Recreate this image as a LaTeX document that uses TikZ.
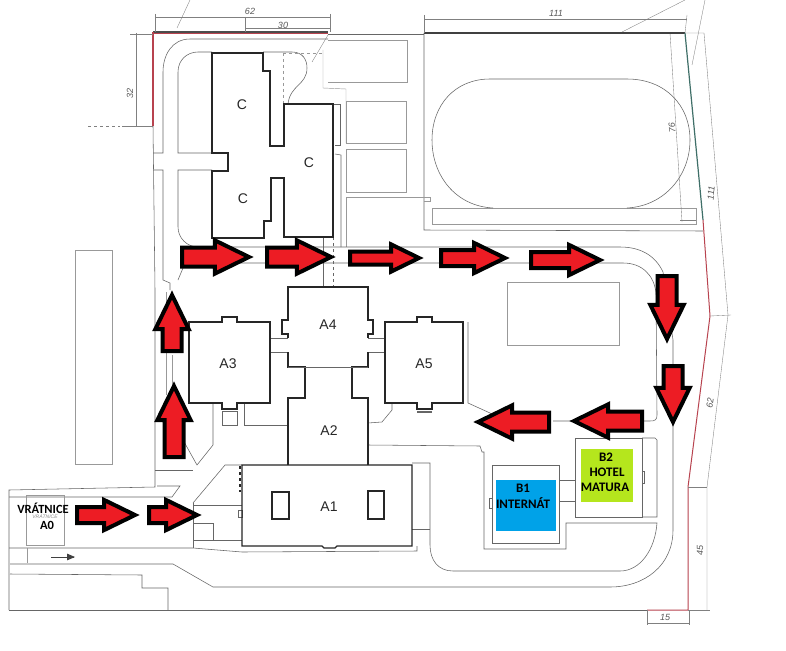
\documentclass[tikz,border=0pt]{standalone}
\usepackage{fontspec}
\setmainfont{Liberation Sans}
\newfontfamily\signfont{Carlito}
\usetikzlibrary{arrows,shapes.arrows}
\definecolor{guidered}{HTML}{ED1C24}
\definecolor{signblue}{HTML}{00A2E8}
\definecolor{signgreen}{HTML}{B5E61D}
\definecolor{borderred}{HTML}{B8434F}
\definecolor{borderteal}{HTML}{3F6F68}
\tikzset{
  wall/.style={line width=1.15pt,black!85},
  road/.style={line width=0.55pt,black!60},
  faint/.style={line width=0.45pt,black!40},
  measure/.style={line width=0.35pt,black!50},
  guide/.style={single arrow,draw=black,fill=guidered,line width=4pt,line join=miter,anchor=tail,inner xsep=0pt,inner ysep=7.5pt,
    single arrow tip angle=52,single arrow head indent=0pt,minimum width=25pt},
  smallguide/.style={guide,inner ysep=6pt,minimum width=21pt},
  dimtext/.style={font=\itshape\fontsize{9}{9}\selectfont,black!65,inner sep=0pt},
  housetext/.style={font=\fontsize{14}{14}\selectfont,black!85,inner sep=0pt},
  signtext/.style={font=\signfont\bfseries\fontsize{13}{13}\selectfont,black,inner sep=0pt}
}
\begin{document}
\begin{tikzpicture}[x=1pt,y=-1pt]
  \useasboundingbox (0,0) rectangle (786,650);
  \fill[white] (0,0) rectangle (786,650);

  % sports ground
  \draw[road] (424,33) -- (424,230) -- (703,231);
  \draw[faint] (432,208) -- (696,208) -- (696,224) -- (432,224) -- cycle;
  \draw[road] (493,208) .. controls (455,206) and (432,175) .. (432,140) .. controls (432,105) and (455,79) .. (490,79)
    -- (627,79) .. controls (665,79) and (690,105) .. (690,140) .. controls (690,175) and (665,206) .. (627,208);
  \draw[faint] (424,197) -- (430,197) -- (430,201) -- (424,201);
  \draw[faint] (410,197) -- (424,197);
  \draw[measure] (670,33) -- (682,222);
  \draw[measure] (680,220) -- (696,220);

  % parking
  \draw[faint] (328,40) -- (407,40) -- (407,82) -- (328,82);
  \draw[faint] (346,101) rectangle (406,143);
  \draw[faint] (346,149) rectangle (406,192);
  \draw[faint] (424,197) -- (346,197) -- (346,247);

  % north road and C block
  \draw[road] (328,34) -- (424,34);
  \draw[road] (328,39) -- (190,39) .. controls (172,39) and (163,55) .. (163,72) -- (163,153) -- (153,153);
  \draw[road] (153,170) -- (163,170) -- (163,280) -- (170,283) -- (170,290);
  \draw[road] (212,153) -- (178,153) -- (178,72) .. controls (178,60) and (187,52) .. (198,52) -- (212,52);
  \draw[road] (212,170) -- (178,170) -- (178,227) .. controls (178,238) and (187,247) .. (198,247) -- (620,247)
    .. controls (640,247) and (655,255) .. (663,272) -- (673,340) -- (673,530)
    .. controls (673,565) and (645,587) .. (610,587) -- (213,587) -- (173,564) -- (10,564);
  \draw[road] (178,280) -- (183,268) -- (186,263) -- (623,263) .. controls (642,263) and (654,275) .. (656,293)
    -- (657,415) .. controls (657,420) and (655,421) .. (650,421) -- (553,421);
  \draw[road] (263,52) -- (292,52) .. controls (303,52) and (307,60) .. (307,68) .. controls (307,85) and (290,85) .. (288,104);
  \draw[faint,dashed] (283,53) -- (283,104);
  \draw[faint,dashed] (283,53) -- (323,53);
  \draw[faint] (323,50) -- (323,88) -- (346,89) -- (346,143);
  \draw[road] (333,104) -- (340,104) -- (340,145) -- (335,145);
  \draw[road] (335,154) -- (341,155) -- (341,247);
  \draw[road] (323,237) -- (323,287);
  \draw[road,dashed] (333,237) -- (333,287);
  \draw[road] (228,153) -- (270,153);
  \draw[road] (228,171) -- (270,171);
  \draw[wall,fill=white] (212,53) -- (263,53) -- (263,71) -- (270,71) -- (270,146) -- (284,146) -- (284,104) -- (333,104)
    -- (333,237) -- (284,237) -- (284,178) -- (271,178) -- (271,221) -- (264,221) -- (264,238) -- (212,238)
    -- (212,171) -- (228,171) -- (228,153) -- (212,153) -- cycle;
  \draw[white,line width=3pt] (270,155) -- (270,169);
  \draw[white,line width=3pt] (271,155) -- (284,155) (271,169) -- (284,169);
  \node[housetext] (blockca) at (242,105) {C};
  \node[housetext] (blockcb) at (309,163) {C};
  \node[housetext] (blockcc) at (243,199) {C};

  % west side
  \draw[faint] (75,250) -- (112,250) -- (112,464) -- (75,464) -- cycle;
  \draw[road] (153,126) -- (155,290) -- (155,487) -- (9,490) -- (9,610);
  \draw[road] (157,486) -- (180,486) -- (172,497) -- (9,497);
  \draw[faint] (166,292) -- (166,395);
  \draw[faint] (172,355) -- (172,385);
  \draw[road] (155,470) -- (193,470);
  \draw[road] (183,440) -- (197,465) -- (213,445) -- (213,403);
  \draw[road] (244,403) -- (244,425) -- (288,425);
  \draw[road] (193,503) -- (225,465) -- (242,465);
  \draw[road] (193,503) -- (193,548);
  \draw[road] (193,505) -- (242,505);
  \draw[road] (194,523) -- (213,523) -- (213,540);
  \draw[road] (194,540) -- (242,540);
  \draw[road] (238,510) rectangle (242,517);
  \draw[wall,dashed] (240,466) -- (240,492);

  % main building
  \draw[road] (368,423) -- (382,422) -- (392,410) -- (392,403);
  \draw[road] (368,445) -- (480,446) -- (482,452) -- (484,452) -- (484,549) -- (566,549) -- (566,523) -- (657,523)
    .. controls (655,550) and (640,571) .. (620,571) -- (453,571) .. controls (438,571) and (430,560) .. (430,545) -- (430,463) -- (412,463);
  \draw[road] (412,529) -- (430,529);
  \draw[road] (468,322) -- (468,403) -- (490,413);
  \draw[road] (490,413) -- (497,421) -- (475,421);
  \draw[road] (270,338) -- (288,338);
  \draw[road] (270,352) -- (288,352);
  \draw[road] (368,338) -- (385,338);
  \draw[road] (368,352) -- (385,352);
  \draw[road] (222,411) rectangle (237,425);
  \draw[road] (417,411) -- (432,411);
  \draw[road] (417,412) -- (432,412);
  \draw[wall] (288,352) -- (288,367) -- (305,367) -- (305,398) -- (288,398) -- (288,465);
  \draw[wall] (368,352) -- (368,367) -- (352,367) -- (352,398) -- (368,398) -- (368,465);
  \draw[road] (288,367) -- (368,367);
  \draw[wall] (288,338) -- (288,334) -- (282,334) -- (282,320) -- (288,320) -- (288,287) -- (368,287) -- (368,320)
    -- (373,320) -- (373,334) -- (368,334) -- (368,338);
  \draw[wall] (270,403) -- (237,403) -- (237,409) -- (222,409) -- (222,403) -- (189,403) -- (189,322) -- (222,322)
    -- (222,317) -- (237,317) -- (237,322) -- (270,322) -- cycle;
  \draw[wall] (463,403) -- (432,403) -- (432,409) -- (417,409) -- (417,403) -- (385,403) -- (385,322) -- (417,322)
    -- (417,317) -- (432,317) -- (432,322) -- (463,322) -- cycle;
  \draw[wall] (242,465) -- (412,465) -- (412,546) -- (337,546) -- (335,548) -- (324,548) -- (322,546) -- (242,546) -- cycle;
  \draw[wall] (272,492) rectangle (289,519);
  \draw[wall] (368,491) rectangle (384,519);
  \node[housetext] (housea1) at (329,507) {A1};
  \node[housetext] (housea2) at (329,431) {A2};
  \node[housetext] (housea3) at (228,364) {A3};
  \node[housetext] (housea4) at (328,325) {A4};
  \node[housetext] (housea5) at (424,364) {A5};

  % court
  \draw[faint] (507,282) rectangle (619,345);

  % hotel and dormitory
  \draw[road] (559,480) -- (575,480);
  \draw[road] (559,501) -- (575,501);
  \draw[road] (575,438) rectangle (642,517);
  \draw[road] (642,517) -- (657,517) -- (657,440) -- (655,438) -- (642,438);
  \draw[road] (642,471) -- (644,471) -- (644,483) -- (642,483);
  \draw[road] (492,465) rectangle (559,543);
  \draw[road] (492,498) -- (489,498) -- (489,508) -- (492,508);
  \fill[signblue] (496,480) rectangle (556,531);
  \fill[signgreen] (581,449) rectangle (633,502);
  \node[signtext] (signb1) at (523,488) {B1};
  \node[signtext] (signinternat) at (523,503) {INTERNÁT};
  \node[signtext] (signb2) at (606,457) {B2};
  \node[signtext] (signhotel) at (607,472) {HOTEL};
  \node[signtext] (signmatura) at (605,487) {MATURA};

  % entrance and south road
  \draw[faint] (26,495) rectangle (64,545);
  \draw[road] (9,548) -- (193,548) -- (242,552) -- (417,551) -- (417,546);
  \draw[faint] (27,548) -- (27,563);
  \draw[road] (10,574) -- (142,575) -- (142,588) -- (168,588) -- (168,610);
  \draw[road] (9,610) -- (647,610);
  \draw[->,>=triangle 45,black!75,line width=0.8pt] (51,557) -- (75,557);
  \node[font=\fontsize{5}{5}\selectfont\itshape,black!45,inner sep=0pt] (gatehand) at (45,516.5) {VRÁTNICE};
  \node[signtext,font=\signfont\bfseries\fontsize{12.5}{12.5}\selectfont] (gatename) at (43,508) {VRÁTNICE};
  \node[signtext,font=\signfont\bfseries\fontsize{12.5}{12.5}\selectfont] (gatecode) at (47,525) {A0};

  % plot border and dimensions
  \draw[black!70,line width=1.3pt] (153,32) -- (328,32);
  \draw[borderred,line width=0.7pt] (153,33) -- (328,33);
  \draw[borderred,line width=1.5pt] (153,32) -- (153,126);
  \draw[black!75,line width=1.1pt] (424,33) -- (685,33);
  \draw[borderteal,line width=1.2pt] (685,33) -- (703,220);
  \draw[borderred,line width=1pt] (703,220) -- (710,316) -- (688,487) -- (688,610) -- (647,610);
  \draw[measure] (155,17) -- (330,17);
  \draw[measure] (155,14) -- (155,32);
  \draw[measure] (330,14) -- (330,32);
  \draw[measure] (245,17) -- (245,32);
  \draw[measure] (245,28) -- (330,28);
  \draw[measure] (136,33) -- (136,126);
  \draw[measure] (130,34) -- (153,34);
  \draw[measure] (122,126) -- (153,126);
  \draw[measure,dashed] (88,126) -- (120,126);
  \draw[measure] (190,0) -- (177,28);
  \draw[measure] (312,62) -- (328,35);
  \draw[measure] (424,19) -- (687,19);
  \draw[measure] (424,15) -- (424,33);
  \draw[measure] (687,15) -- (685,33);
  \draw[measure] (622,32) -- (685,0);
  \draw[measure] (692,65) -- (705,0);
  \draw[measure] (685,33) -- (704,33) -- (728,315) -- (707,487) -- (707,610);
  \draw[measure] (710,316) -- (731,315);
  \draw[measure] (688,487) -- (707,487);
  \draw[measure] (688,610) -- (710,610);
  \draw[measure] (647,610) -- (647,625);
  \draw[measure] (689,610) -- (689,625);
  \draw[measure] (647,623) -- (689,623);
  \node[dimtext] (dimfronta) at (250,11) {62};
  \node[dimtext] (dimfrontb) at (283,25) {30};
  \node[dimtext,rotate=90] (dimwesta) at (130,93) {32};
  \node[dimtext] (dimtrack) at (556,13) {111};
  \node[dimtext,rotate=95] (dimrun) at (672,128) {76};
  \node[dimtext,rotate=85] (dimeasta) at (711,193) {111};
  \node[dimtext,rotate=82] (dimeastb) at (710,403) {62};
  \node[dimtext,rotate=90] (dimeastc) at (700,550) {45};
  \node[dimtext] (dimsouth) at (665,617) {15};

  % guide arrows along the way in
  \node[smallguide,minimum height=58pt] (guidea) at (75,515) {};
  \node[smallguide,minimum height=48pt] (guideb) at (147,515) {};
  \node[guide,rotate=90,minimum height=71pt] (guidec) at (174,459) {};
  \node[guide,rotate=90,minimum height=56pt] (guided) at (172,353) {};
  \node[guide,minimum height=67pt] (guidee) at (180,257) {};
  \node[guide,minimum height=64pt] (guidef) at (265,257) {};
  \node[smallguide,inner ysep=4.5pt,minimum height=69pt] (guideg) at (348,258) {};
  \node[smallguide,minimum height=64pt] (guideh) at (439,258) {};
  \node[smallguide,minimum height=69pt] (guidei) at (529,260) {};
  \node[guide,rotate=-90,minimum height=63pt] (guidej) at (667,274) {};
  \node[guide,rotate=-90,minimum height=56pt] (guidek) at (673,364) {};
  \node[guide,rotate=180,minimum height=68pt] (guidel) at (644,421) {};
  \node[guide,rotate=180,minimum height=71pt] (guidem) at (551,422) {};
\end{tikzpicture}
\end{document}
